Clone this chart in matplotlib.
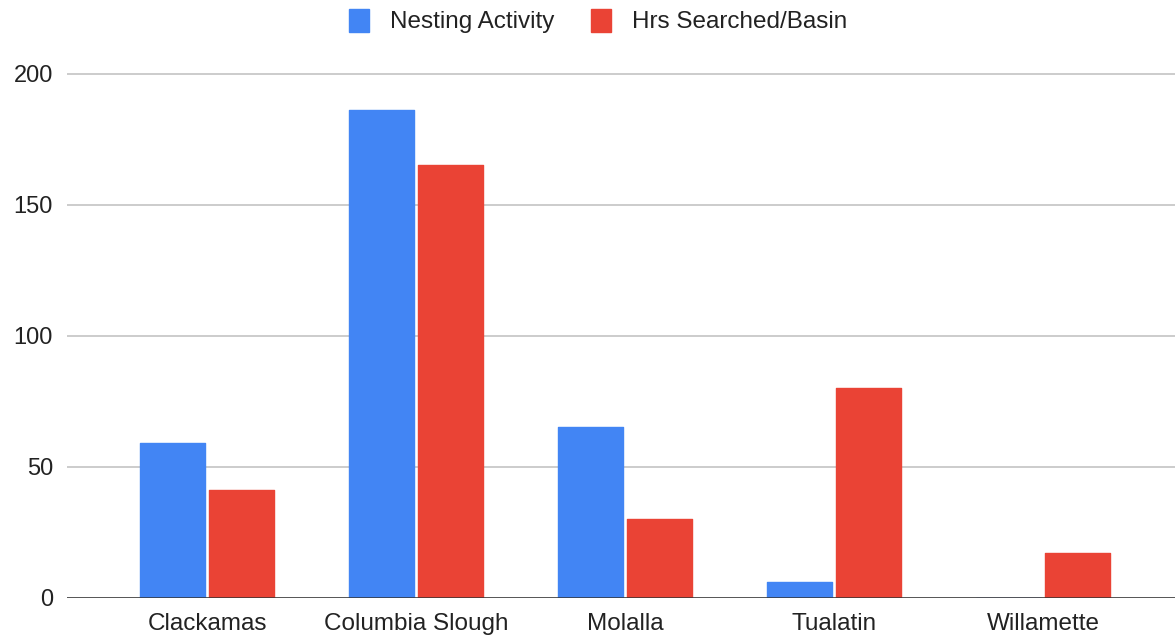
import matplotlib.pyplot as plt
import numpy as np
from matplotlib.patches import Patch

# %% Data
basins = ['Clackamas', 'Columbia Slough', 'Molalla', 'Tualatin', 'Willamette']
nesting_activity = [59, 186, 65, 6, 0]
hrs_searched = [41, 165, 30, 80, 17]

blue = '#4285F4'
red = '#EA4335'

plt.rcParams['font.family'] = ['Liberation Sans', 'DejaVu Sans']

# %% Figure
fig = plt.figure(figsize=(11.75, 6.35), dpi=100)
# axes placed in pixel terms: left edge 67px, baseline 597.7px from top
px_per_unit = 2.62
y_top = 205
ax = fig.add_axes([67 / 1175, (635 - 597.7) / 635,
                   (1175 - 67) / 1175, y_top * px_per_unit / 635])

x = np.arange(len(basins))
width = 0.311
offset = 0.165

ax.bar(x - offset, nesting_activity, width, color=blue, edgecolor=blue,
       linewidth=1, joinstyle='round', zorder=3)
ax.bar(x + offset, hrs_searched, width, color=red, edgecolor=red,
       linewidth=1, joinstyle='round', zorder=3)

ax.set_xlim(-0.67, 4.63)
ax.set_ylim(0, y_top)
ax.set_yticks([0, 50, 100, 150, 200])
ax.set_xticks(x)
ax.set_xticklabels(basins)

ax.grid(axis='y', color='#cccccc', linewidth=1.4, zorder=0)
ax.axhline(0, color='#333333', linewidth=1.8, zorder=4)

for side in ['top', 'right', 'left', 'bottom']:
    ax.spines[side].set_visible(False)
ax.tick_params(axis='both', length=0, labelsize=17.5, colors='#222222')
ax.tick_params(axis='y', labelsize=17, pad=10)
ax.tick_params(axis='x', pad=11)

# %% Legend
handles = [Patch(facecolor=blue, edgecolor=blue, label='Nesting Activity'),
           Patch(facecolor=red, edgecolor=red, label='Hrs Searched/Basin')]
fig.legend(handles=handles, loc='center', bbox_to_anchor=(598 / 1175, 1 - 21 / 635),
           ncol=2, frameon=False, fontsize=17.5, handlelength=0.85,
           handleheight=1.1, handletextpad=0.85, columnspacing=1.5,
           labelcolor='#222222')

fig.savefig('out.png', dpi=100)
